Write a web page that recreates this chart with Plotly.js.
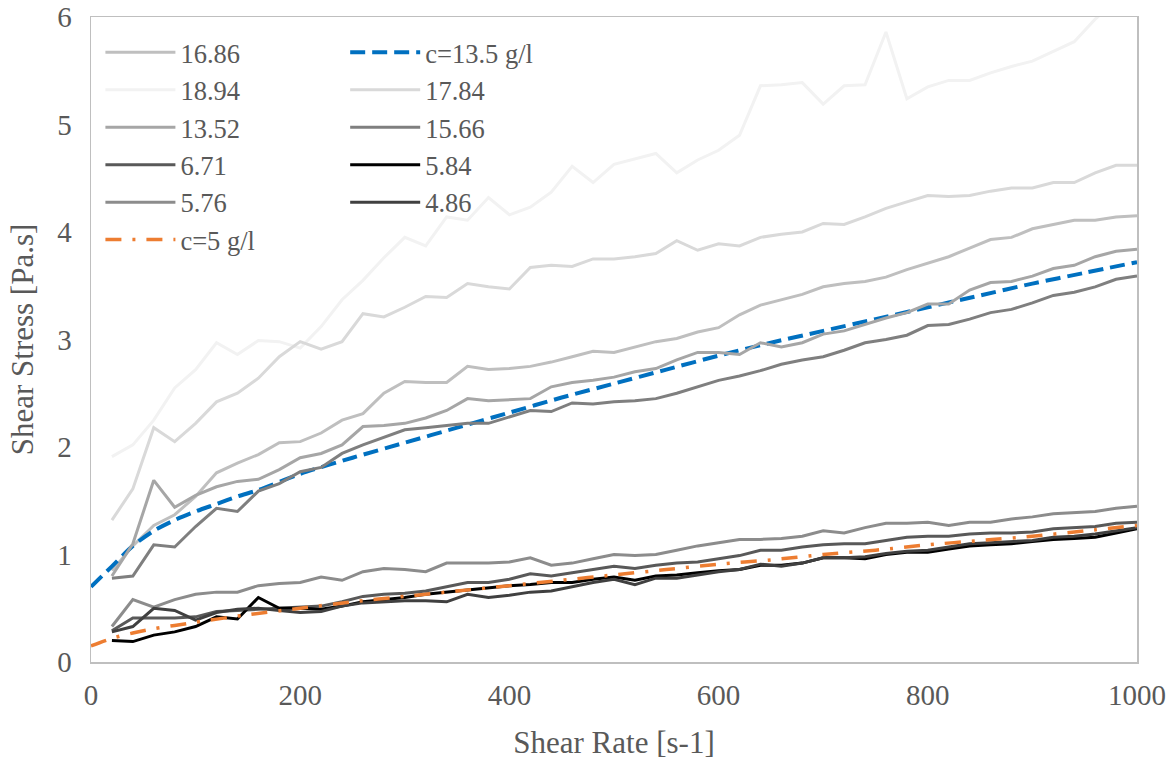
<!DOCTYPE html>
<html>
<head>
<meta charset="utf-8">
<script src="https://cdn.plot.ly/plotly-3.0.1.min.js"></script>
<style>html,body{margin:0;padding:0;background:#fff;}#chart{width:1175px;height:765px;}</style>
</head>
<body>
<div id="chart"></div>
<script>
// Shear rate [s-1] of measured points
const shearRate = [20,40,60,80,100,120,140,160,180,200,220,240,260,280,300,320,340,360,380,400,420,440,460,480,500,520,540,560,580,600,620,640,660,680,700,720,740,760,780,800,820,840,860,880,900,920,940,960,980,1000];

// Measured shear stress series
const s16_86 = [0.85,1.08,1.27,1.37,1.54,1.76,1.85,1.93,2.04,2.05,
  2.13,2.25,2.31,2.50,2.61,2.60,2.60,2.75,2.72,2.73,
  2.75,2.79,2.84,2.89,2.88,2.93,2.98,3.01,3.07,3.11,
  3.23,3.32,3.37,3.42,3.49,3.52,3.54,3.58,3.65,3.71,
  3.77,3.85,3.93,3.95,4.03,4.07,4.11,4.11,4.14,4.15];
const s18_94 = [1.91,2.02,2.25,2.55,2.72,2.97,2.86,2.99,2.98,2.92,
  3.12,3.37,3.55,3.76,3.95,3.87,4.14,4.11,4.32,4.16,
  4.23,4.37,4.61,4.46,4.63,4.68,4.73,4.55,4.67,4.76,
  4.90,5.36,5.37,5.39,5.19,5.36,5.37,5.86,5.24,5.35,
  5.41,5.41,5.48,5.54,5.59,5.68,5.77,5.98,6.15,6.30];
const s13_52 = [0.80,1.10,1.69,1.44,1.55,1.63,1.68,1.70,1.79,1.90,
  1.94,2.02,2.19,2.20,2.22,2.27,2.34,2.45,2.43,2.44,
  2.45,2.56,2.60,2.62,2.65,2.70,2.73,2.81,2.88,2.88,
  2.86,2.97,2.93,2.97,3.05,3.08,3.14,3.20,3.25,3.33,
  3.33,3.46,3.53,3.54,3.59,3.66,3.69,3.77,3.82,3.84];
const s6_71 = [0.29,0.41,0.41,0.41,0.42,0.47,0.48,0.49,0.50,0.51,
  0.52,0.56,0.61,0.63,0.64,0.66,0.70,0.74,0.74,0.77,
  0.82,0.80,0.83,0.86,0.89,0.87,0.90,0.92,0.93,0.96,
  0.99,1.04,1.04,1.07,1.09,1.10,1.10,1.13,1.16,1.17,
  1.17,1.19,1.20,1.20,1.21,1.24,1.25,1.26,1.29,1.30];
const s5_76 = [0.33,0.58,0.51,0.58,0.63,0.65,0.65,0.71,0.73,0.74,
  0.79,0.76,0.84,0.87,0.86,0.84,0.92,0.92,0.92,0.93,
  0.97,0.90,0.92,0.96,1.00,0.99,1.00,1.04,1.08,1.11,
  1.14,1.14,1.15,1.17,1.22,1.20,1.25,1.29,1.29,1.30,
  1.27,1.30,1.30,1.33,1.35,1.38,1.39,1.40,1.43,1.45];
const s17_84 = [1.32,1.61,2.18,2.05,2.22,2.42,2.50,2.64,2.84,2.98,
  2.91,2.98,3.24,3.21,3.30,3.40,3.39,3.52,3.49,3.47,
  3.67,3.69,3.68,3.75,3.75,3.77,3.80,3.92,3.83,3.89,
  3.87,3.95,3.98,4.00,4.08,4.07,4.14,4.22,4.28,4.34,
  4.33,4.34,4.38,4.41,4.41,4.46,4.46,4.55,4.62,4.62];
const s15_66 = [0.78,0.80,1.09,1.07,1.26,1.43,1.40,1.59,1.66,1.77,
  1.81,1.94,2.02,2.09,2.16,2.18,2.20,2.22,2.22,2.28,
  2.34,2.33,2.41,2.40,2.42,2.43,2.45,2.50,2.56,2.62,
  2.66,2.71,2.77,2.81,2.84,2.90,2.97,3.00,3.04,3.13,
  3.14,3.19,3.25,3.28,3.34,3.41,3.44,3.49,3.56,3.59];
const s5_84 = [0.20,0.19,0.25,0.28,0.33,0.42,0.40,0.60,0.50,0.50,
  0.49,0.52,0.56,0.58,0.60,0.63,0.65,0.67,0.69,0.71,
  0.72,0.74,0.74,0.77,0.79,0.76,0.80,0.81,0.83,0.85,
  0.86,0.90,0.90,0.92,0.97,0.97,0.96,1.00,1.02,1.02,
  1.05,1.08,1.09,1.10,1.12,1.14,1.15,1.16,1.20,1.24];
const s4_86 = [0.28,0.33,0.50,0.48,0.39,0.46,0.49,0.50,0.48,0.46,
  0.47,0.52,0.55,0.56,0.57,0.57,0.56,0.63,0.60,0.62,
  0.65,0.66,0.70,0.74,0.77,0.72,0.78,0.78,0.81,0.84,
  0.86,0.91,0.89,0.92,0.97,0.97,0.98,1.01,1.03,1.04,
  1.07,1.10,1.11,1.12,1.13,1.16,1.17,1.19,1.22,1.25];

// Fitted model curves
const fit135X = [0,20,40,60,80,100,120,140,160,200,250,300,350,400,450,500,550,600,650,700,750,800,850,900,950,1000];
const fit135Y = [0.70,0.89,1.08,1.22,1.32,1.40,1.47,1.54,1.60,1.75,1.90,2.04,2.18,2.32,2.46,2.59,2.72,2.85,2.97,3.08,3.19,3.30,3.41,3.52,3.62,3.72];
const fit5X = [0,20,40,60,80,100,150,200,250,300,350,400,450,500,550,600,650,700,750,800,850,900,950,1000];
const fit5Y = [0.15,0.22,0.27,0.31,0.34,0.37,0.44,0.50,0.56,0.61,0.66,0.71,0.76,0.81,0.86,0.91,0.95,1.00,1.04,1.09,1.13,1.17,1.22,1.27];

const seriesNames = ['16.86','c=13.5 g/l','18.94','17.84','13.52','15.66','6.71','5.84','5.76','4.86','c=5 g/l'];

const FONT = "'Liberation Serif', 'Times New Roman', Times, serif";
const TXT = '#595959';

function meas(name, y, color, legend) {
  return {type:'scatter', mode:'lines', name:name, x:shearRate, y:y,
    line:{color:color, width:3}, legend:legend, hoverinfo:'skip'};
}

const traces = [
  meas(seriesNames[0], s16_86, '#bfbfbf', 'legend'),
  {type:'scatter', mode:'lines', name:seriesNames[1], x:fit135X, y:fit135Y,
    line:{color:'#0070c0', width:4, dash:'15px,7px', shape:'spline', smoothing:0.8}, legend:'legend2', hoverinfo:'skip'},
  meas(seriesNames[2], s18_94, '#f2f2f2', 'legend'),
  meas(seriesNames[3], s17_84, '#d9d9d9', 'legend2'),
  meas(seriesNames[4], s13_52, '#a6a6a6', 'legend'),
  meas(seriesNames[5], s15_66, '#7f7f7f', 'legend2'),
  meas(seriesNames[6], s6_71, '#595959', 'legend'),
  meas(seriesNames[7], s5_84, '#000000', 'legend2'),
  meas(seriesNames[8], s5_76, '#8c8c8c', 'legend'),
  meas(seriesNames[9], s4_86, '#404040', 'legend2'),
  {type:'scatter', mode:'lines', name:seriesNames[10], x:fit5X, y:fit5Y,
    line:{color:'#ed7d31', width:3.5, dash:'16px,11px,3px,11px', shape:'spline', smoothing:0.8}, legend:'legend', hoverinfo:'skip'}
];

const legendCommon = {
  xanchor:'left', yanchor:'top', bgcolor:'rgba(0,0,0,0)', borderwidth:0,
  font:{family:FONT, size:26.5, color:TXT}, itemwidth:70, tracegroupgap:0,
  traceorder:'normal', itemclick:false, itemdoubleclick:false
};

const layout = {
  width:1175, height:765,
  margin:{l:91, r:38, t:17, b:103, pad:0},
  paper_bgcolor:'#ffffff', plot_bgcolor:'#ffffff',
  font:{family:FONT, color:TXT},
  showlegend:true,
  legend:Object.assign({x:0.009, y:0.982}, legendCommon),
  legend2:Object.assign({x:0.243, y:0.982}, legendCommon),
  xaxis:{range:[0,1000], dtick:200, tick0:0, showgrid:false, zeroline:false,
    showline:true, mirror:true, linecolor:'#bfbfbf', linewidth:1.5,
    ticks:'', ticklabelstandoff:7,
    tickfont:{family:FONT, size:29, color:TXT},
    title:{text:'Shear Rate [s-1]', font:{family:FONT, size:31, color:TXT}, standoff:21}},
  yaxis:{range:[0,6], dtick:1, tick0:0, showgrid:false, zeroline:false,
    showline:true, mirror:true, linecolor:'#bfbfbf', linewidth:1.5,
    ticks:'', ticklabelstandoff:12,
    tickfont:{family:FONT, size:29, color:TXT},
    title:{text:'Shear Stress [Pa.s]', font:{family:FONT, size:31, color:TXT}, standoff:14}}
};

Plotly.newPlot('chart', traces, layout, {staticPlot:true, displayModeBar:false});
</script>
</body>
</html>
